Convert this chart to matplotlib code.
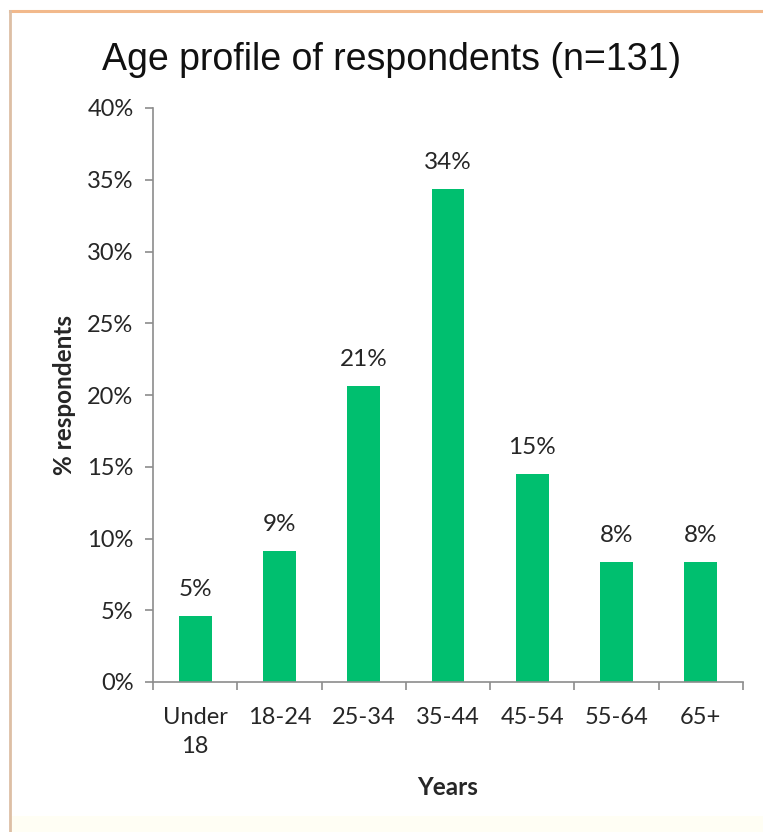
import numpy as np
import matplotlib.pyplot as plt
from matplotlib.lines import Line2D
from matplotlib.patches import Rectangle

# data (n=131 respondents)
age_groups = ["Under\n18", "18-24", "25-34", "35-44", "45-54", "55-64", "65+"]
counts = [6, 12, 27, 45, 19, 11, 11]
n_total = 131
shares = [c / n_total for c in counts]
y_ticks = [0.0, 0.05, 0.10, 0.15, 0.20, 0.25, 0.30, 0.35, 0.40]

bar_color = "#00BF6F"
axis_color = "#8C8C8C"
text_color = "#262626"
font = ["Lato", "DejaVu Sans"]

W, H = 763, 832
fig = plt.figure(figsize=(W / 100, H / 100), dpi=100)
fig.patch.set_facecolor("white")

# frame: only top (orange) and left (tan) edges show, faint cream strip at bottom
fig.add_artist(Line2D([10 / W, 1], [1 - 11 / H, 1 - 11 / H], transform=fig.transFigure,
                      color="#F2B98C", linewidth=2.2))
fig.add_artist(Line2D([10 / W, 10 / W], [0, 1 - 11 / H], transform=fig.transFigure,
                      color="#DDBFA5", linewidth=2))
fig.patches.append(Rectangle((11 / W, 0), 1, 16 / H, transform=fig.transFigure,
                             facecolor="#FFFEF4", edgecolor="none"))

ax = fig.add_axes([153 / W, 1 - 682 / H, 590 / W, 574 / H])

x = np.arange(len(age_groups))
bars = ax.bar(x, shares, width=0.39, color=bar_color)

for xi, v in zip(x, shares):
    ax.text(xi, v + 0.011, f"{v:.0%}", ha="center", va="bottom",
            fontsize=17.5, color=text_color, family=font)

ax.set_xlim(-0.5, len(age_groups) - 0.5)
ax.set_ylim(0, 0.40)
ax.set_yticks(y_ticks)
ax.set_yticklabels([f"{t:.0%}" for t in y_ticks], family=font, fontsize=17, color=text_color)

ax.set_xticks(x)
ax.set_xticklabels(age_groups, family=font, fontsize=17, color=text_color, linespacing=1.45)
ax.tick_params(axis="x", which="major", length=0, pad=18)
ax.set_xticks(np.arange(-0.5, len(age_groups)), minor=True)
ax.tick_params(axis="x", which="minor", length=6, color=axis_color, width=1.2)
ax.tick_params(axis="y", length=6, color=axis_color, width=1.2, pad=8)

for s in ["top", "right"]:
    ax.spines[s].set_visible(False)
for s in ["left", "bottom"]:
    ax.spines[s].set_color(axis_color)
    ax.spines[s].set_linewidth(1.2)

ax.set_ylabel("% respondents", family=font, fontsize=17.5, fontweight="bold",
              color=text_color, labelpad=8)
ax.set_xlabel("Years", family=font, fontsize=17.5, fontweight="bold",
              color=text_color, labelpad=14)

fig.text(392 / W, 1 - 60 / H, "Age profile of respondents (n=131)",
         ha="center", va="center", fontsize=27, color="#111111",
         family=["Liberation Sans Narrow", "Liberation Sans", "DejaVu Sans"])

fig.savefig("out.png", dpi=100)
